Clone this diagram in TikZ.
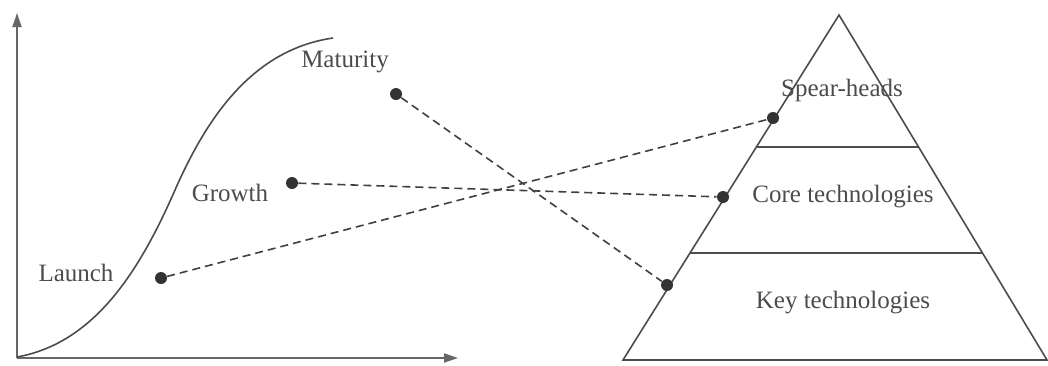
\documentclass[tikz,border=0pt]{standalone}
\usepackage{fontspec}
\setmainfont{Liberation Serif}
\usetikzlibrary{arrows.meta, calc}

\begin{document}
\begin{tikzpicture}[x=0.5pt,y=-0.5pt,
    font=\fontsize{12.5}{15}\selectfont,
    lbl/.style={text=black!70},
    dot/.style={circle,fill=black!80,inner sep=0pt,minimum size=6pt},
    link/.style={dashed,dash pattern=on 4pt off 2.5pt,line width=0.8pt,black!75},
    axis/.style={-{Triangle[length=7pt,width=4.5pt]},line width=0.9pt,black!60},
    edge/.style={line width=0.8pt,black!70}]
    \useasboundingbox (0,0) rectangle (1048,365);
    % Life cycle axes
    \coordinate (o) at (17,358);
    \coordinate (ytip) at (17,13);
    \coordinate (xtip) at (458,358);
    \draw[axis] (o) -- (ytip);
    \draw[axis] (o) -- (xtip);
    % S-curve
    \draw[edge] (17,357) .. controls (95,343) and (140,270) .. (175,190)
      .. controls (205,122) and (250,50) .. (333,38);
    % Phases
    \node[lbl] (mat) at (345,62)  {Maturity};
    \node[lbl] (gro) at (230,193) {Growth};
    \node[lbl] (lau) at (76,273)  {Launch};
    \node[dot] (matd) at (396,94)  {};
    \node[dot] (grod) at (292,183) {};
    \node[dot] (laud) at (161,278) {};
    % Pyramid
    \coordinate (apex) at (839,15);
    \coordinate (bl) at (623,360);
    \coordinate (br) at (1047,360);
    \draw[edge] (apex) -- (bl) -- (br) -- cycle;
    \draw[edge] ($(apex)!0.3826!(bl)$) coordinate (l1) -- ($(apex)!0.3826!(br)$) coordinate (r1);
    \draw[edge] ($(apex)!0.6899!(bl)$) coordinate (l2) -- ($(apex)!0.6899!(br)$) coordinate (r2);
    \node[lbl] (spe) at (842,90)  {Spear-heads};
    \node[lbl] (cor) at (843,197) {Core technologies};
    \node[lbl] (key) at (843,303) {Key technologies};
    \node[dot] (sped) at (773,118) {};
    \node[dot] (cord) at (723,197) {};
    \node[dot] (keyd) at (667,285) {};
    % Links
    \draw[link] (laud) -- (sped);
    \draw[link] (grod) -- (cord);
    \draw[link] (matd) -- (keyd);
\end{tikzpicture}
\end{document}
